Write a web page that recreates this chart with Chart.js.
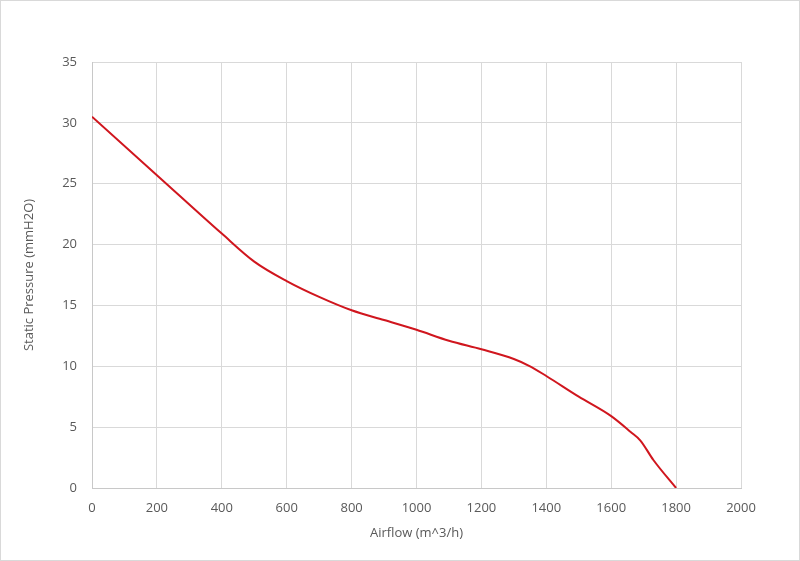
<!DOCTYPE html>
<html>
<head>
<meta charset="utf-8">
<script src="https://cdn.jsdelivr.net/npm/chart.js@4/dist/chart.umd.min.js"></script>
<style>
  html, body { margin: 0; padding: 0; background: #fff; }
  #wrap { width: 800px; height: 561px; }
</style>
</head>
<body>
<div id="wrap"><canvas id="c" width="800" height="561"></canvas></div>
<script>
const airflow = [0, 200, 400, 500, 600, 700, 800, 900, 1000, 1100, 1200, 1300, 1350, 1400, 1500, 1600, 1660, 1690, 1730, 1800];
const pressure = [30.5, 25.7, 20.9, 18.6, 17.0, 15.7, 14.6, 13.8, 13.0, 12.1, 11.4, 10.6, 10.0, 9.2, 7.5, 5.9, 4.6, 3.9, 2.3, 0];
const xTicks = [0, 200, 400, 600, 800, 1000, 1200, 1400, 1600, 1800, 2000];
const yTicks = [0, 5, 10, 15, 20, 25, 30, 35];

const frame = {
  id: 'frame',
  beforeDraw(chart) {
    const c = chart.ctx;
    c.save();
    c.fillStyle = '#fff';
    c.fillRect(0, 0, chart.width, chart.height);
    c.strokeStyle = '#d9d9d9';
    c.lineWidth = 1;
    c.strokeRect(0.5, 0.5, chart.width - 1, chart.height - 1);
    c.restore();
  }
};

const tickFont = { family: 'Open Sans', size: 13 };
const gridColor = '#d9d9d9';

new Chart(document.getElementById('c'), {
  type: 'line',
  data: {
    datasets: [{
      data: airflow.map((x, i) => ({ x, y: pressure[i] })),
      borderColor: '#d0161e',
      borderWidth: 2,
      pointRadius: 0,
      cubicInterpolationMode: 'monotone',
      fill: false
    }]
  },
  options: {
    responsive: false,
    animation: false,
    layout: { padding: { left: 17, right: 59, top: 62, bottom: 16 } },
    plugins: { legend: { display: false }, tooltip: { enabled: false } },
    scales: {
      x: {
        type: 'linear',
        min: 0,
        max: 2000,
        afterBuildTicks: (s) => { s.ticks = xTicks.map(v => ({ value: v })); },
        afterFit: (s) => { s.height = 57; },
        grid: { color: gridColor, drawTicks: false },
        border: { color: '#c8c8c8' },
        ticks: { color: '#595959', font: tickFont, padding: 12, callback: (v) => String(v) },
        title: { display: true, text: 'Airflow (m^3/h)', color: '#595959', font: tickFont, padding: { top: 4 } }
      },
      y: {
        min: 0,
        max: 35,
        afterBuildTicks: (s) => { s.ticks = yTicks.map(v => ({ value: v })); },
        afterFit: (s) => { s.width = 75; },
        grid: { color: gridColor, drawTicks: false },
        border: { color: '#c8c8c8' },
        ticks: { color: '#595959', font: tickFont, padding: 15, callback: (v) => String(v) },
        title: { display: true, text: 'Static Pressure (mmH2O)', color: '#595959', font: tickFont, padding: { bottom: 0 } }
      }
    }
  },
  plugins: [frame]
});
</script>
</body>
</html>
